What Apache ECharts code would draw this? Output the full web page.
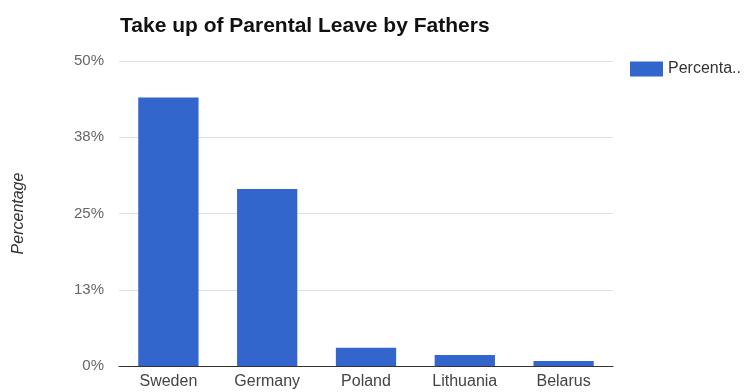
<!DOCTYPE html>
<html>
<head>
<meta charset="utf-8">
<script src="https://cdn.jsdelivr.net/npm/echarts@6/dist/echarts.min.js"></script>
<style>html,body{margin:0;padding:0;background:#fff}#c{width:744px;height:392px}</style>
</head>
<body>
<div id="c"></div>
<script>
const categories = ["Sweden", "Germany", "Poland", "Lithuania", "Belarus"];
const percentages = [44, 29, 3, 1.8, 0.8];
const yTicks = [0, 12.5, 25, 37.5, 50];
const seriesName = "Percentage";
const titleText = "Take up of Parental Leave by Fathers";

const FONT = 'Liberation Sans, Arial, sans-serif';
const chart = echarts.init(document.getElementById('c'), null, {renderer: 'canvas'});
chart.setOption({
  animation: false,
  backgroundColor: '#fff',
  title: {
    text: titleText,
    left: 115, top: 11,
    textStyle: {fontFamily: FONT, fontSize: 21, fontWeight: 'bold', color: '#111'}
  },
  legend: {
    data: [seriesName],
    left: 625, top: 56,
    icon: 'rect', itemWidth: 33, itemHeight: 15, itemGap: 6,
    formatter: function(n){ return n.slice(0, 8) + '..'; },
    textStyle: {fontFamily: FONT, fontSize: 16, color: '#333'}
  },
  grid: {left: 119, right: 131, top: 61, bottom: 26},
  xAxis: {
    type: 'category',
    data: categories,
    axisTick: {show: false},
    axisLine: {lineStyle: {color: '#333', width: 1}},
    axisLabel: {fontFamily: FONT, fontSize: 16, color: '#444', margin: 8}
  },
  yAxis: {
    type: 'value',
    min: yTicks[0], max: yTicks[yTicks.length - 1], interval: yTicks[1] - yTicks[0],
    name: 'Percentage',
    nameLocation: 'middle',
    nameGap: 92,
    nameTextStyle: {fontFamily: FONT, fontSize: 16, fontStyle: 'italic', color: '#333'},
    axisLine: {show: false},
    axisTick: {show: false},
    splitLine: {lineStyle: {color: '#e0e0e0', width: 1}},
    axisLabel: {
      fontFamily: FONT, fontSize: 15, color: '#666', margin: 15,
      formatter: function(v){ return Math.round(v) + '%'; }
    }
  },
  series: [{
    name: seriesName,
    type: 'bar',
    data: percentages,
    barWidth: '61%',
    itemStyle: {color: '#3366cc'}
  }]
});
</script>
</body>
</html>
